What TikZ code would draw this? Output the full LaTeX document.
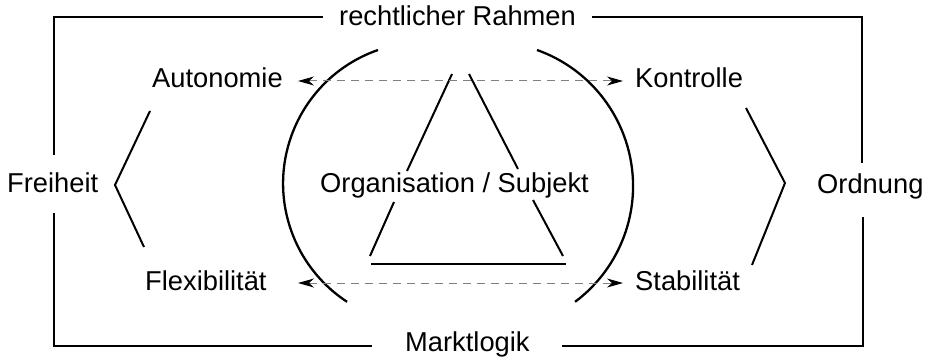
\documentclass[tikz,border=0pt]{standalone}
\usepackage{fontspec}
\setmainfont{Liberation Sans}
\usetikzlibrary{arrows.meta}
\begin{document}
\begin{tikzpicture}[x=1pt,y=-1pt,
  lbl/.style={anchor=base west,inner sep=0pt,font=\fontsize{27.3}{32}\selectfont},
  frame/.style={line width=2pt,line join=miter},
  stroke/.style={line width=2pt},
  arcline/.style={line width=2.3pt},
  darr/.style={line width=1pt,draw=black!50,dash pattern=on 8pt off 6pt,
    {Stealth[length=16pt,width=9pt,inset=5pt,black]}-{Stealth[length=16pt,width=9pt,inset=5pt,black]}}]
\useasboundingbox (0,0) rectangle (929,358);
% texts
\node[lbl] (rahmen) at (339,26) {rechtlicher Rahmen};
\node[lbl] (markt) at (405,351) {Marktlogik};
\node[lbl] (freiheit) at (7,193) {Freiheit};
\node[lbl] (ordnung) at (817,194) {Ordnung};
\node[lbl] (auto) at (152,88) {Autonomie};
\node[lbl] (flex) at (145,290) {Flexibilität};
\node[lbl] (kontr) at (635,88) {Kontrolle};
\node[lbl] (stab) at (635,290) {Stabilität};
\node[lbl] (org) at (320,193) {Organisation / Subjekt};
% frame coordinates
\coordinate (tl) at (54,17);
\coordinate (tr) at (862,17);
\coordinate (bl) at (54,346);
\coordinate (br) at (863,346);
\coordinate (tA) at (323,17);
\coordinate (tB) at (592,17);
\coordinate (bA) at (372,346);
\coordinate (bB) at (562,346);
\coordinate (lA) at (54,155);
\coordinate (lB) at (54,213);
\coordinate (rA) at (862,163);
\coordinate (rB) at (863,217);
\draw[frame] (lA) -- (tl) -- (tA);
\draw[frame] (tB) -- (tr) -- (rA);
\draw[frame] (lB) -- (bl) -- (bA);
\draw[frame] (bB) -- (br) -- (rB);
% chevrons
\coordinate (lc1) at (150,111);
\coordinate (lc2) at (115,185);
\coordinate (lc3) at (144,247);
\coordinate (rc1) at (746,108);
\coordinate (rc2) at (785,183);
\coordinate (rc3) at (752,265);
\draw[stroke] (lc1) -- (lc2) -- (lc3);
\draw[stroke] (rc1) -- (rc2) -- (rc3);
% arcs
\coordinate (la) at (378,50);
\coordinate (ra) at (537,50);
\draw[arcline] (la) arc[start angle=109.2,end angle=236.8,radius=141.4pt];
\draw[arcline] (ra) arc[start angle=70.4,end angle=-53.2,radius=144.5pt];
% triangle
\coordinate (t1) at (452,74);
\coordinate (t2) at (407,171);
\coordinate (t3) at (394,202);
\coordinate (t4) at (370,256);
\coordinate (t5) at (469,74);
\coordinate (t6) at (518,169);
\coordinate (t7) at (533,200);
\coordinate (t8) at (563,256);
\coordinate (t9) at (371,264);
\coordinate (t10) at (566,264);
\draw[stroke] (t1) -- (t2);
\draw[stroke] (t3) -- (t4);
\draw[stroke] (t5) -- (t6);
\draw[stroke] (t7) -- (t8);
\draw[stroke] (t9) -- (t10);
% dashed arrows
\coordinate (d1) at (298,81);
\coordinate (d2) at (623,81);
\coordinate (d3) at (298,283);
\coordinate (d4) at (623,283);
\draw[darr] (d1) -- (d2);
\draw[darr] (d3) -- (d4);
\end{tikzpicture}
\end{document}
